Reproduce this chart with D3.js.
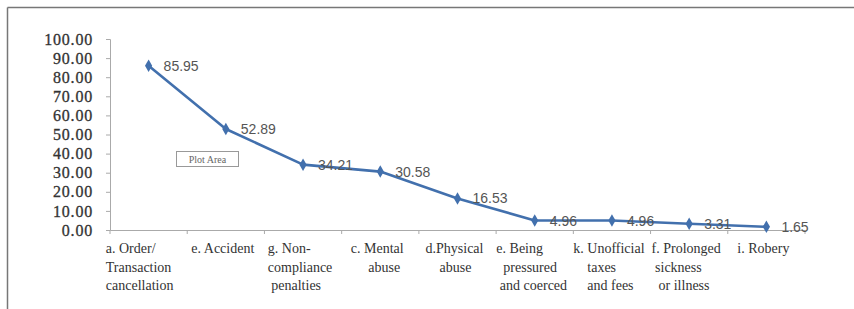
<!DOCTYPE html>
<html><head><meta charset="utf-8">
<script src="https://cdn.jsdelivr.net/npm/d3@7"></script>
<style>body{margin:0;background:#fff;}svg{display:block;}</style>
</head><body>
<script>
const categories = [
  ["a. Order/","Transaction","cancellation"],
  ["e. Accident"],
  ["g. Non-","compliance"," penalties"],
  ["c. Mental","     abuse"],
  ["d.Physical","    abuse"],
  ["e. Being","  pressured"," and coerced"],
  ["k. Unofficial","    taxes","    and fees"],
  ["f. Prolonged"," sickness","  or illness"],
  ["i. Robery"]
];
const values = [85.95, 52.89, 34.21, 30.58, 16.53, 4.96, 4.96, 3.31, 1.65];
const yTicks = [0,10,20,30,40,50,60,70,80,90,100];

const W = 854, H = 309;
const svg = d3.select("body").append("svg").attr("width", W).attr("height", H);

// outer frame (top and left)
svg.append("line").attr("x1",7.5).attr("x2",W).attr("y1",7.5).attr("y2",7.5).attr("stroke","#777").attr("stroke-width",1.5);
svg.append("line").attr("x1",7.5).attr("x2",7.5).attr("y1",7.5).attr("y2",H).attr("stroke","#777").attr("stroke-width",1.5);

const x = d3.scaleBand().domain(d3.range(categories.length)).range([110, 805]);
const y = d3.scaleLinear().domain([0, 100]).range([230, 39]);

// Y axis
const yAxis = svg.append("g").attr("transform","translate(110,0)")
  .call(d3.axisLeft(y).tickValues(yTicks).tickFormat(d3.format(".2f")).tickSize(4).tickPadding(13));
yAxis.attr("font-family", null);
yAxis.select(".domain").attr("stroke","#aaa");
yAxis.selectAll(".tick line").attr("stroke","#aaa");
yAxis.selectAll("text").style("font-family","'Liberation Serif', serif").attr("font-size",16)
  .attr("letter-spacing","0.8px").attr("fill","#333").attr("stroke","#333").attr("stroke-width",0.3);

// X axis
const xAxis = svg.append("g").attr("transform","translate(0,230)")
  .call(d3.axisBottom(x).tickSize(0).tickFormat(""));
xAxis.select(".domain").attr("stroke","#aaa");
const bounds = d3.range(categories.length + 1).map(i => 110 + i * x.step());
svg.append("g").selectAll("line").data(bounds).join("line")
  .attr("x1", d=>d).attr("x2", d=>d).attr("y1",230).attr("y2",234).attr("stroke","#aaa");

// category labels: lines left-aligned inside a block centred on the band
const lab = svg.append("g").selectAll("text").data(categories).join("text")
  .style("font-family","'Liberation Serif', serif").attr("font-size",14).attr("fill","#333")
  .style("white-space","pre").attr("xml:space","preserve");
lab.each(function(lines, i){
  const t = d3.select(this);
  const spans = t.selectAll("tspan").data(lines).join("tspan")
    .attr("y", (d,j) => 253 + j*18.5)
    .text(d=>d);
  let w = 0;
  spans.each(function(){ w = Math.max(w, this.getComputedTextLength()); });
  const left = x(i) + x.bandwidth()/2 - w/2 - (i === 0 ? 9 : 3);
  spans.attr("x", left);
});

// Plot Area box
svg.append("rect").attr("x",176.5).attr("y",151.5).attr("width",62).attr("height",15).attr("fill","#fff").attr("stroke","#999");
svg.append("text").attr("x",207.5).attr("y",162.5).attr("text-anchor","middle")
  .style("font-family","'Liberation Serif', serif").attr("font-size",10).attr("fill","#666").text("Plot Area");

// line
const cx = i => x(i) + x.bandwidth()/2;
svg.append("path").datum(values)
  .attr("d", d3.line().x((d,i)=>cx(i)).y(d=>y(d)))
  .attr("fill","none").attr("stroke","#4270ad").attr("stroke-width",2.6).attr("stroke-linejoin","round");

// markers
svg.append("g").selectAll("path").data(values).join("path")
  .attr("d", d3.symbol().type(d3.symbolDiamond).size(45))
  .attr("transform",(d,i)=>`translate(${cx(i)},${y(d)})`)
  .attr("fill","#4270ad");

// data labels
svg.append("g").selectAll("text").data(values).join("text")
  .attr("x",(d,i)=>cx(i)+15).attr("y",d=>y(d)+5)
  .style("font-family","'Liberation Sans', sans-serif").attr("font-size",14).attr("fill","#555")
  .text(d=>d3.format(".2f")(d));
</script>
</body></html>
